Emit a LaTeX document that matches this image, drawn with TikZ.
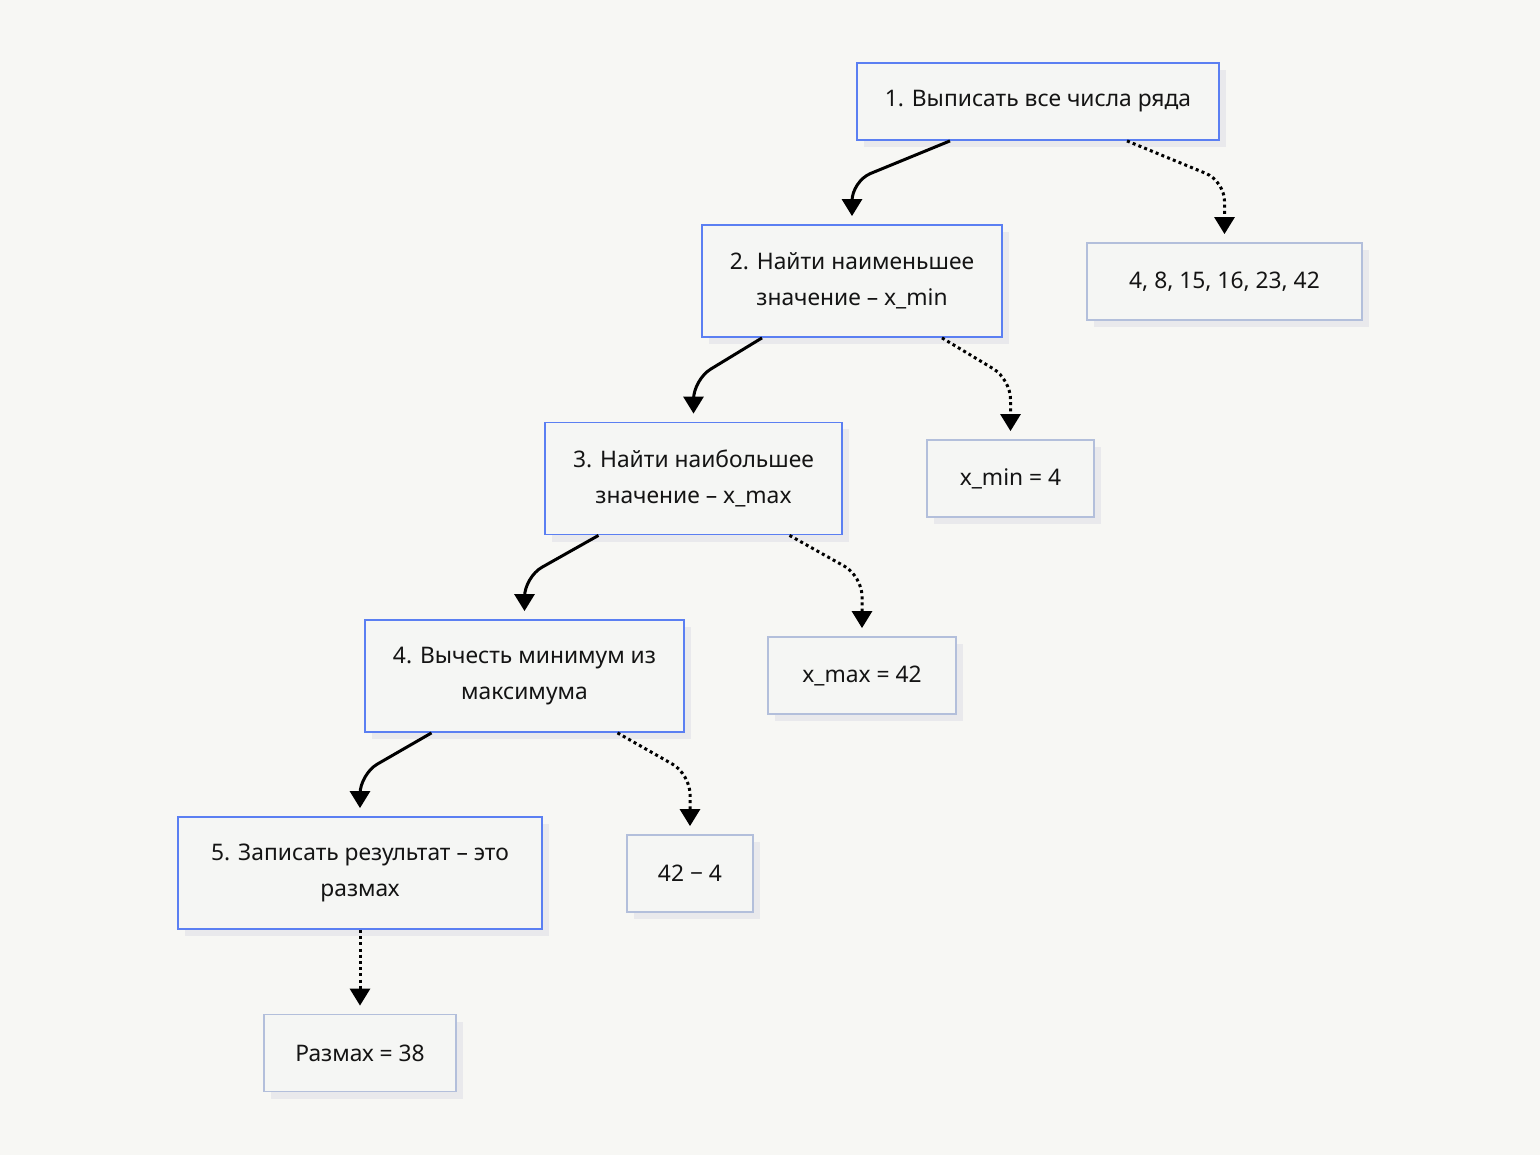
\documentclass[tikz,border=0pt]{standalone}
\usepackage{fontspec}
\setmainfont{Noto Sans}
\usetikzlibrary{arrows.meta,shadows}
\definecolor{bgcol}{HTML}{F7F7F4}
\definecolor{boxfill}{HTML}{F5F6F4}
\definecolor{stepblue}{HTML}{5B7FF2}
\definecolor{valgrey}{HTML}{B3BFDB}
\definecolor{shade}{HTML}{E9E9EC}
\definecolor{ink}{HTML}{141414}
\begin{document}
\begin{tikzpicture}[x=1pt, y=-1pt,
    box/.style={fill=boxfill, line width=1.8pt, text=ink, align=center,
        font=\fontsize{22.8}{36}\selectfont, inner xsep=28pt, minimum height=77pt,
        drop shadow={shadow xshift=7pt, shadow yshift=-7pt, fill=shade, opacity=1}},
    stepbox/.style={box, draw=stepblue},
    valbox/.style={box, draw=valgrey},
    flow/.style={line width=3pt, rounded corners=20pt, -{Triangle[width=20pt,length=17pt]}},
    dots/.style={flow, dash pattern=on 3pt off 3.2pt}]
    \fill[bgcol] (0,0) rectangle (1540,1155);
    \useasboundingbox (0,0) rectangle (1540,1155);

    \node[stepbox] (1) at (1038, 101.5) {1. Выписать все числа ряда};
    \node[stepbox, minimum height=112pt] (2) at (852, 281) {2. Найти наименьшее\\значение -- x\_min};
    \node[stepbox, minimum height=112pt] (3) at (693.5, 478.5) {3. Найти наибольшее\\значение -- x\_max};
    \node[stepbox, minimum height=112pt] (4) at (524.5, 676) {4. Вычесть минимум из\\максимума};
    \node[stepbox, minimum height=112pt, minimum width=364pt] (5) at (360, 873) {5. Записать результат -- это\\размах};

    \node[valbox, minimum width=275pt] (6) at (1224.5, 281.5) {4, 8, 15, 16, 23, 42};
    \node[valbox, minimum width=167pt] (7) at (1010.5, 478.5) {x\_min = 4};
    \node[valbox, minimum width=188pt] (8) at (862, 675.5) {x\_max = 42};
    \node[valbox, minimum width=126pt] (9) at (690, 873.5) {42 − 4};
    \node[valbox, minimum width=192pt] (10) at (360, 1053) {Размах = 38};

    \draw[flow] ([xshift=-88pt]1.south) -- ([yshift=43pt]2.north) -- ([yshift=8pt]2.north);
    \draw[dots] ([xshift=89pt]1.south) -- ([yshift=61pt]6.north) -- ([yshift=8pt]6.north);
    \draw[flow] ([xshift=-90pt]2.south) -- ([yshift=42pt]3.north) -- ([yshift=8pt]3.north);
    \draw[dots] ([xshift=90pt]2.south) -- ([yshift=60pt]7.north) -- ([yshift=8pt]7.north);
    \draw[flow] ([xshift=-95pt]3.south) -- ([yshift=42pt]4.north) -- ([yshift=8pt]4.north);
    \draw[dots] ([xshift=96pt]3.south) -- ([yshift=60pt]8.north) -- ([yshift=8pt]8.north);
    \draw[flow] ([xshift=-93pt]4.south) -- ([yshift=42pt]5.north) -- ([yshift=8pt]5.north);
    \draw[dots] ([xshift=93pt]4.south) -- ([yshift=60pt]9.north) -- ([yshift=8pt]9.north);
    \draw[dots] (5.south) -- ([yshift=8pt]10.north);
\end{tikzpicture}
\end{document}
